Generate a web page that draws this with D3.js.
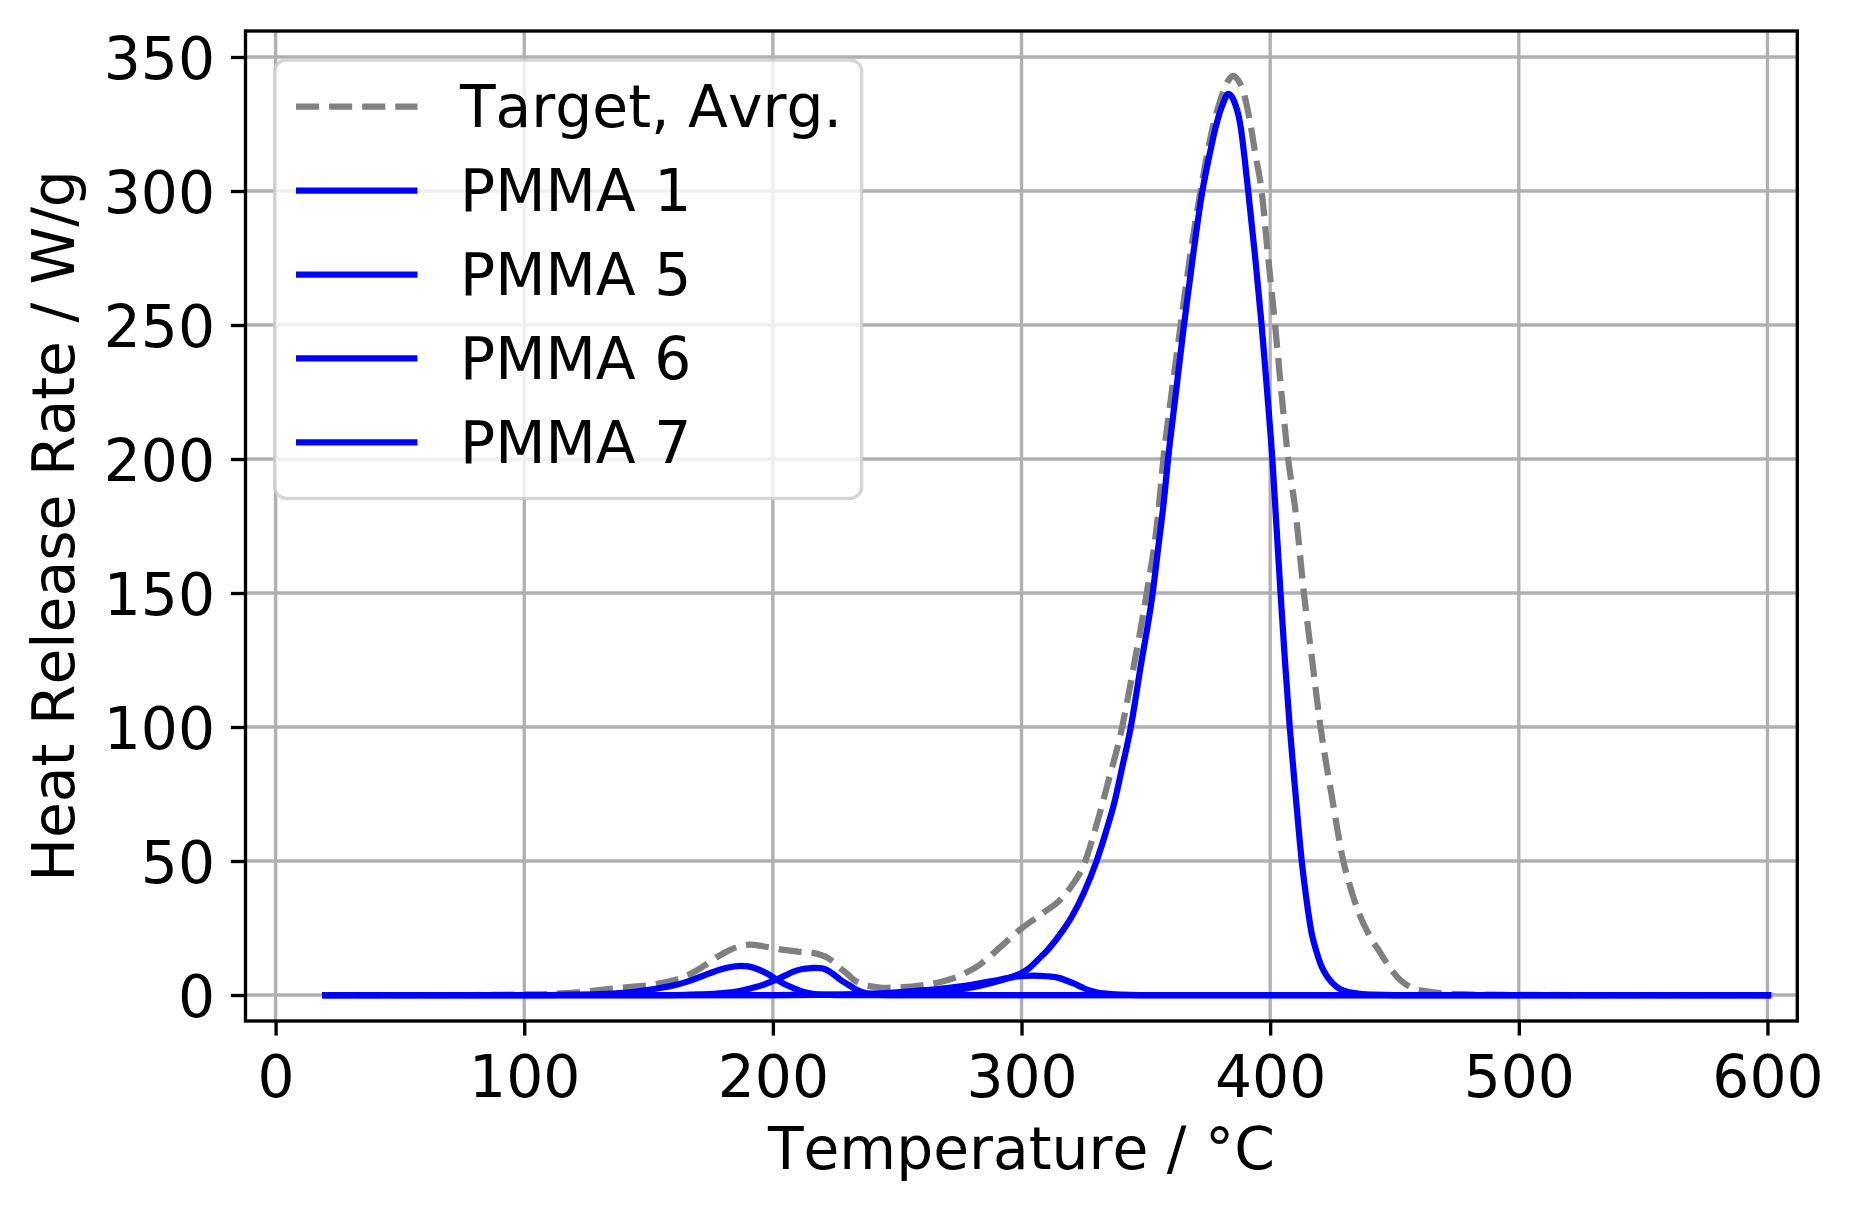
<!DOCTYPE html>
<html>
<head>
<meta charset="utf-8">
<script src="https://cdn.jsdelivr.net/npm/d3@7"></script>
<style>
  html, body { margin: 0; padding: 0; background: #ffffff; }
  svg { display: block; }
  text { font-family: "DejaVu Sans", sans-serif; fill: #000; font-kerning: none; }
</style>
</head>
<body>
<script>
// ---------------- DATA ----------------
const xTicks = [0, 100, 200, 300, 400, 500, 600];
const yTicks = [0, 50, 100, 150, 200, 250, 300, 350];
const xLabel = "Temperature / °C";
const yLabel = "Heat Release Rate / W/g";
const seriesNames = ["Target, Avrg.", "PMMA 1", "PMMA 5", "PMMA 6", "PMMA 7"];

const targetT = [20, 80, 100, 110, 120, 125, 132, 138.5, 145, 152, 158, 165, 170, 176, 181, 186, 191, 196, 203, 210, 216, 219, 222, 225, 227, 230, 232.3, 236, 239, 243, 246, 252, 259, 266, 273, 278, 283, 287, 291, 295, 300, 305, 310, 315, 320, 325, 330, 335, 340, 345, 350, 355, 357, 360, 364, 368, 372, 376, 380, 383, 385, 387, 389, 392, 394, 396.6, 399, 402, 404.5, 407.3, 410, 413.6, 417, 420.3, 425, 429.4, 432, 435.5, 440, 444, 448.3, 452.3, 457.6, 464.3, 473.5, 490, 520, 603];
const targetHRR = [0, 0, 0.2, 0.4, 0.9, 1.3, 2.0, 2.7, 3.2, 3.9, 5.0, 7.0, 9.5, 13.2, 16.0, 18.0, 18.8, 18.2, 17.0, 16.2, 15.7, 15.0, 13.9, 11.8, 10.1, 7.8, 5.8, 4.1, 3.3, 2.8, 2.7, 2.9, 3.5, 4.6, 6.4, 8.5, 11.2, 14.2, 17.5, 20.8, 24.8, 28.2, 31.5, 35.0, 40.5, 48.5, 63, 80, 98, 122, 148, 180, 199.6, 222, 250, 277, 300, 320, 334, 341, 343, 341.5, 337.7, 325.3, 314, 299.7, 277, 249.7, 225, 199.6, 182, 149.6, 124, 99.7, 73, 50, 41, 31, 22, 16.2, 10, 5.6, 2.5, 1.2, 0.4, 0.1, 0, 0];

const pmma1T = [20, 110, 120, 130, 140, 150, 155, 160, 165, 168, 172, 176, 180, 184, 187, 190, 194, 198, 201.5, 205, 208, 212, 216, 220, 226, 600];
const pmma1HRR = [0, 0, 0.1, 0.3, 0.8, 1.9, 2.7, 3.6, 4.8, 5.8, 7.2, 8.6, 9.8, 10.6, 10.9, 10.7, 9.6, 7.8, 5.8, 3.9, 2.7, 1.2, 0.4, 0.1, 0, 0];

const pmma5T = [20, 160, 170, 180, 186, 192, 197, 201.5, 205, 208, 212, 215, 217, 219, 221, 224, 227, 230, 232.3, 236, 240, 246, 600];
const pmma5HRR = [0, 0, 0.2, 0.7, 1.4, 2.7, 4.1, 5.8, 7.3, 8.6, 9.7, 10.0, 10.1, 10.0, 9.6, 8.0, 5.8, 4.0, 2.7, 1.0, 0.3, 0, 0];

const pmma6T = [20, 200, 220, 230, 240, 250, 260, 270, 280, 290, 296.7, 301, 305, 310, 315, 318, 321, 324, 327, 330, 335, 340, 348, 600];
const pmma6HRR = [0, 0, 0.05, 0.2, 0.5, 1.0, 1.7, 2.6, 3.8, 5.5, 6.7, 7.1, 7.2, 7.0, 6.4, 5.4, 4.3, 3.0, 1.8, 1.0, 0.4, 0.1, 0, 0];

const pmma7T = [20, 200, 220, 240, 250, 260, 270, 280, 285, 290, 295, 300, 303, 307, 311, 316.8, 320.2, 325, 330.2, 334, 337.6, 340.5, 343.9, 348, 352.7, 355, 357.3, 358.9, 362, 365.3, 369, 372.7, 375.5, 378.5, 381, 383.1, 385.5, 387.9, 391.2, 394, 396.6, 398.8, 400.9, 401.9, 404.2, 406, 407.9, 410.3, 412.7, 414.7, 416.7, 418.7, 420.7, 422.5, 424.3, 426.7, 429, 432, 436, 442, 450, 600];
const pmma7HRR = [0, 0, 0.02, 0.15, 0.35, 0.8, 1.5, 2.8, 3.8, 5.0, 6.4, 8.2, 10.0, 13.5, 17.3, 24.3, 29.2, 38, 50, 61, 72.8, 85, 99.7, 123, 149.6, 167, 184.7, 199.6, 224, 249.7, 276, 299.7, 313, 325.3, 332.5, 336.2, 333.5, 325.3, 299.7, 275, 249.7, 225, 199.6, 184.7, 149.6, 124, 99.7, 74, 50, 35, 23, 16, 10.6, 7.5, 5.2, 3.1, 1.8, 1.0, 0.4, 0.1, 0, 0];

// ---------------- LAYOUT ----------------
const W = 1855, H = 1213;
const plot = { left: 245.5, right: 1797.3, top: 31, bottom: 1021 };
const xDomain = [-12.1, 612.0];
const yDomain = [-9.7, 359.7];
const fs = 58.3;          // 14pt @ 300 dpi
const lw = 6.25;          // 1.5pt
const thin = 3.33;        // 0.8pt
const tickLen = 14.6;

const svg = d3.select("body").append("svg")
  .attr("width", W).attr("height", H).attr("viewBox", `0 0 ${W} ${H}`);

const x = d3.scaleLinear().domain(xDomain).range([plot.left, plot.right]);
const y = d3.scaleLinear().domain(yDomain).range([plot.bottom, plot.top]);

svg.append("defs").append("clipPath").attr("id", "clip")
  .append("rect")
  .attr("x", plot.left).attr("y", plot.top)
  .attr("width", plot.right - plot.left).attr("height", plot.bottom - plot.top);

// grid
const grid = svg.append("g").attr("clip-path", "url(#clip)");
grid.selectAll("line.gx").data(xTicks).join("line")
  .attr("x1", d => x(d)).attr("x2", d => x(d))
  .attr("y1", plot.top).attr("y2", plot.bottom)
  .attr("stroke", "#b0b0b0").attr("stroke-width", thin);
grid.selectAll("line.gy").data(yTicks).join("line")
  .attr("y1", d => y(d)).attr("y2", d => y(d))
  .attr("x1", plot.left).attr("x2", plot.right)
  .attr("stroke", "#b0b0b0").attr("stroke-width", thin);

// lines
const zip = (t, v) => t.map((d, i) => [d, v[i]]);
const line = d3.line().x(d => x(d[0])).y(d => y(d[1])).curve(d3.curveMonotoneX);
const lines = svg.append("g").attr("clip-path", "url(#clip)");

lines.append("path").datum(zip(targetT, targetHRR))
  .attr("d", line).attr("fill", "none")
  .attr("stroke", "#808080").attr("stroke-width", lw)
  .attr("stroke-dasharray", "23.1 10").attr("stroke-linecap", "butt")
  .attr("stroke-linejoin", "round");

const blueSeries = [zip(pmma1T, pmma1HRR), zip(pmma5T, pmma5HRR), zip(pmma6T, pmma6HRR), zip(pmma7T, pmma7HRR)];
blueSeries.forEach(s => {
  lines.append("path").datum(s)
    .attr("d", line).attr("fill", "none")
    .attr("stroke", "#0000ff").attr("stroke-width", lw)
    .attr("stroke-linecap", "square").attr("stroke-linejoin", "round");
});

// axes
const xAxis = svg.append("g").attr("transform", `translate(0,${plot.bottom})`)
  .call(d3.axisBottom(x).tickValues(xTicks).tickFormat(d3.format("d")).tickSizeInner(tickLen).tickSizeOuter(0));
const yAxis = svg.append("g").attr("transform", `translate(${plot.left},0)`)
  .call(d3.axisLeft(y).tickValues(yTicks).tickFormat(d3.format("d")).tickSizeInner(tickLen).tickSizeOuter(0));
[xAxis, yAxis].forEach(a => {
  a.select(".domain").remove();
  a.selectAll(".tick line").attr("stroke", "#000").attr("stroke-width", thin);
  a.selectAll(".tick text").attr("font-size", fs).attr("font-family", "DejaVu Sans").attr("fill", "#000");
});
xAxis.selectAll(".tick text").attr("y", 76).attr("dy", 0);
yAxis.selectAll(".tick text").attr("x", -30.5).attr("dy", "0.37em");

// spines
svg.append("rect")
  .attr("x", plot.left).attr("y", plot.top)
  .attr("width", plot.right - plot.left).attr("height", plot.bottom - plot.top)
  .attr("fill", "none").attr("stroke", "#000").attr("stroke-width", thin);

// axis labels
svg.append("text").attr("x", (plot.left + plot.right) / 2).attr("y", 1169)
  .attr("text-anchor", "middle").attr("font-size", fs).text(xLabel);
svg.append("text")
  .attr("transform", `translate(74,${(plot.top + plot.bottom) / 2}) rotate(-90)`)
  .attr("text-anchor", "middle").attr("font-size", fs).text(yLabel);

// legend
const leg = svg.append("g");
leg.append("rect")
  .attr("x", 274.6).attr("y", 60).attr("width", 861.7 - 274.6).attr("height", 498.3 - 60)
  .attr("rx", 11.7).attr("ry", 11.7)
  .attr("fill", "#ffffff").attr("fill-opacity", 0.8)
  .attr("stroke", "#cccccc").attr("stroke-opacity", 0.8).attr("stroke-width", thin);
const rowY0 = 106.7, rowStep = 83.9;
seriesNames.forEach((name, i) => {
  const cy = rowY0 + i * rowStep;
  const l = leg.append("line")
    .attr("x1", 296).attr("x2", 417.5).attr("y1", cy).attr("y2", cy)
    .attr("stroke-width", lw);
  if (i === 0) {
    l.attr("stroke", "#808080").attr("stroke-dasharray", "23.1 10").attr("stroke-linecap", "butt");
  } else {
    l.attr("stroke", "#0000ff").attr("stroke-linecap", "butt");
  }
  leg.append("text").attr("x", 460).attr("y", cy + 20.5)
    .attr("font-size", fs).text(name);
});
</script>
</body>
</html>
